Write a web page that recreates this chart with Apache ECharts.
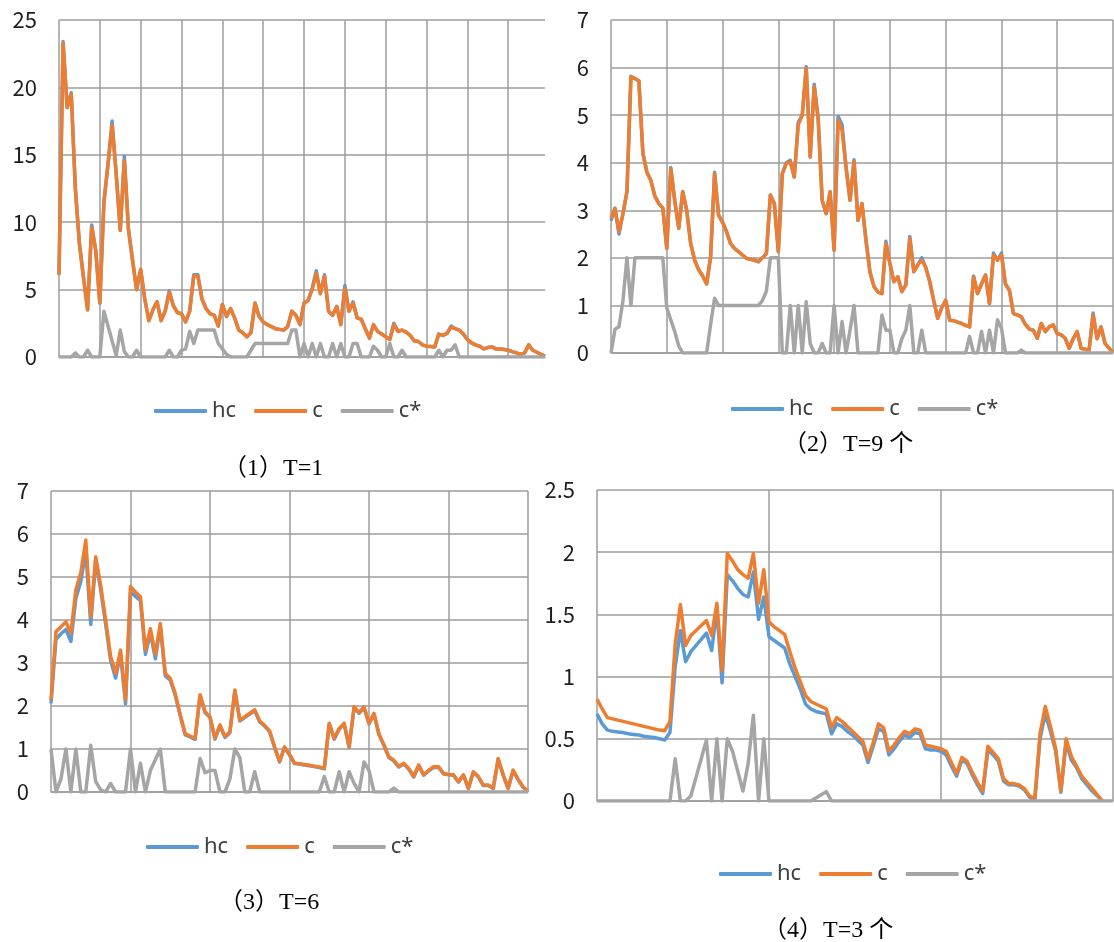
<!DOCTYPE html>
<html>
<head>
<meta charset="utf-8">
<title>hc / c / c*</title>
<script src="https://cdn.jsdelivr.net/npm/echarts@6/dist/echarts.min.js"></script>
<style>
  html, body { margin: 0; padding: 0; background: #fff; }
  #chart { width: 1114px; height: 942px; }
</style>
</head>
<body>
<div id="chart"></div>
<script>
// (1) T=1
const hc1 = [
  6.1, 23.4, 18.5, 19.6, 12.5, 8.4, 5.9, 3.5, 9.8, 7.9,
  4.0, 11.5, 14.3, 17.5, 13.6, 9.4, 14.9, 9.5, 7.2, 5.0,
  6.5, 4.3, 2.7, 3.5, 4.1, 2.7, 3.4, 4.9, 3.8, 3.3,
  3.2, 2.6, 3.4, 6.1, 6.1, 4.3, 3.6, 3.2, 3.1, 2.3,
  3.9, 3.0, 3.6, 2.9, 2.0, 1.8, 1.5, 1.8, 4.0, 3.0,
  2.6, 2.4, 2.25, 2.1, 2.05, 2.0, 2.25, 3.4, 3.1, 2.4,
  4.0, 4.2, 5.1, 6.4, 4.7, 6.1, 3.4, 3.1, 3.75, 2.4,
  5.3, 3.4, 4.1, 2.9, 2.8, 2.1, 1.4, 2.4, 1.9, 1.7,
  1.5, 1.3, 2.5, 1.9, 2.0, 1.85, 1.6, 1.2, 1.15, 0.9,
  0.8, 0.78, 0.75, 1.7, 1.6, 1.75, 2.3, 2.1, 2.0, 1.7,
  1.3, 1.05, 0.9, 0.8, 0.6, 0.7, 0.75, 0.6, 0.6, 0.55,
  0.5, 0.4, 0.3, 0.2, 0.3, 0.9, 0.5, 0.35, 0.2, 0.05
]
const c1 = [
  6.1, 23.3, 18.5, 19.5, 12.5, 8.4, 5.9, 3.5, 9.6, 7.9,
  4.0, 11.5, 14.3, 17.2, 13.6, 9.4, 14.6, 9.5, 7.2, 5.0,
  6.5, 4.3, 2.7, 3.5, 4.1, 2.7, 3.4, 4.8, 3.8, 3.3,
  3.2, 2.6, 3.4, 6.0, 6.0, 4.3, 3.6, 3.2, 3.1, 2.3,
  3.9, 3.0, 3.6, 2.9, 2.0, 1.8, 1.5, 1.8, 4.0, 3.0,
  2.6, 2.4, 2.25, 2.1, 2.05, 2.0, 2.25, 3.4, 3.1, 2.4,
  4.0, 4.2, 5.0, 6.2, 4.7, 6.0, 3.4, 3.1, 3.75, 2.4,
  5.1, 3.4, 4.0, 2.9, 2.8, 2.1, 1.4, 2.4, 1.9, 1.7,
  1.5, 1.3, 2.4, 1.9, 2.0, 1.85, 1.6, 1.2, 1.15, 0.9,
  0.8, 0.78, 0.75, 1.7, 1.6, 1.75, 2.2, 2.1, 2.0, 1.7,
  1.3, 1.05, 0.9, 0.8, 0.6, 0.7, 0.75, 0.6, 0.6, 0.55,
  0.5, 0.4, 0.3, 0.2, 0.3, 0.9, 0.5, 0.35, 0.2, 0.05
]
const cs1 = [
  0, 0, 0, 0, 0.3, 0, 0, 0.5, 0, 0,
  0, 3.4, 2.3, 1.2, 0.1, 2.0, 0.4, 0, 0, 0.5,
  0, 0, 0, 0, 0, 0, 0, 0.5, 0, 0,
  0.5, 0.6, 1.9, 1.0, 2.0, 2.0, 2.0, 2.0, 2.0, 1.0,
  0.6, 0.2, 0, 0, 0, 0, 0, 0.5, 1.0, 1.0,
  1.0, 1.0, 1.0, 1.0, 1.0, 1.0, 1.0, 2.0, 2.0, 0,
  1.0, 0, 1.0, 0, 1.0, 0, 0, 1.0, 0, 1.0,
  0, 0, 1.0, 1.0, 0, 0, 0, 0.8, 0.5, 0,
  0, 1.0, 0, 0, 0.5, 0, 0, 0, 0, 0,
  0, 0, 0, 0.5, 0, 0.5, 0.5, 0.9, 0, 0,
  0, 0, 0, 0, 0, 0, 0, 0, 0, 0,
  0, 0, 0, 0, 0, 0, 0, 0, 0, 0
]

// (2) T=9
const hc2 = [
  2.78, 3.04, 2.5, 2.93, 3.39, 5.82, 5.77, 5.72, 4.2, 3.8,
  3.63, 3.3, 3.14, 3.05, 2.2, 3.9, 3.2, 2.62, 3.39, 3.0,
  2.3, 1.95, 1.75, 1.62, 1.45, 2.02, 3.8, 2.9, 2.75, 2.55,
  2.3, 2.2, 2.13, 2.06, 1.99, 1.97, 1.95, 1.92, 2.0, 2.09,
  3.32, 3.14, 2.13, 3.77, 4.0, 4.05, 3.7, 4.85, 5.0, 6.02,
  4.12, 5.65, 4.95, 3.21, 2.93, 3.39, 2.16, 4.97, 4.8, 3.9,
  3.21, 4.06, 2.79, 3.14, 2.37, 1.7, 1.4, 1.28, 1.25, 2.35,
  1.88, 1.5, 1.6, 1.29, 1.43, 2.45, 1.71, 1.85, 2.0, 1.8,
  1.5, 1.1, 0.73, 0.95, 1.11, 0.69, 0.68, 0.65, 0.62, 0.58,
  0.55, 1.62, 1.25, 1.45, 1.64, 1.04, 2.1, 1.95, 2.1, 1.45,
  1.32, 0.83, 0.8, 0.76, 0.6, 0.5, 0.48, 0.31, 0.62, 0.45,
  0.55, 0.59, 0.41, 0.38, 0.31, 0.1, 0.3, 0.45, 0.1, 0.08,
  0.06, 0.84, 0.3, 0.55, 0.2, 0.1, 0.02
]
const c2 = [
  2.83, 3.04, 2.55, 2.93, 3.39, 5.8, 5.77, 5.72, 4.2, 3.8,
  3.63, 3.3, 3.14, 3.05, 2.2, 3.88, 3.2, 2.62, 3.39, 3.0,
  2.3, 1.95, 1.75, 1.62, 1.45, 2.02, 3.77, 2.9, 2.75, 2.55,
  2.3, 2.2, 2.13, 2.06, 1.99, 1.97, 1.95, 1.92, 2.0, 2.09,
  3.32, 3.14, 2.13, 3.77, 3.98, 4.02, 3.7, 4.8, 5.0, 5.98,
  4.12, 5.6, 4.9, 3.21, 2.93, 3.39, 2.16, 4.9, 4.68, 3.9,
  3.21, 4.02, 2.79, 3.14, 2.37, 1.7, 1.4, 1.28, 1.25, 2.3,
  1.88, 1.5, 1.6, 1.29, 1.43, 2.41, 1.71, 1.85, 1.95, 1.8,
  1.5, 1.1, 0.73, 0.95, 1.11, 0.69, 0.68, 0.65, 0.62, 0.58,
  0.55, 1.6, 1.25, 1.45, 1.64, 1.04, 2.06, 1.95, 2.06, 1.45,
  1.32, 0.83, 0.8, 0.76, 0.6, 0.5, 0.48, 0.31, 0.62, 0.45,
  0.55, 0.59, 0.41, 0.38, 0.31, 0.1, 0.3, 0.45, 0.1, 0.08,
  0.06, 0.8, 0.3, 0.55, 0.2, 0.1, 0.02
]
const cs2 = [
  0, 0.5, 0.55, 1.1, 2.0, 1.0, 2.0, 2.0, 2.0, 2.0,
  2.0, 2.0, 2.0, 2.0, 0.95, 0.7, 0.45, 0.15, 0, 0,
  0, 0, 0, 0, 0, 0.6, 1.15, 1.0, 1.0, 1.0,
  1.0, 1.0, 1.0, 1.0, 1.0, 1.0, 1.0, 1.0, 1.1, 1.3,
  2.0, 2.0, 2.0, 0, 0, 1.0, 0, 1.0, 0, 1.08,
  0.2, 0, 0, 0.2, 0, 0, 1.0, 0, 0.66, 0,
  0.48, 1.0, 0, 0, 0, 0, 0, 0, 0.8, 0.48,
  0.48, 0, 0, 0.3, 0.48, 1.0, 0, 0, 0.48, 0,
  0, 0, 0, 0, 0, 0, 0, 0, 0, 0,
  0.35, 0, 0, 0.45, 0, 0.48, 0, 0.7, 0.52, 0,
  0, 0, 0, 0.06, 0, 0, 0, 0, 0, 0,
  0, 0, 0, 0, 0, 0, 0, 0, 0, 0,
  0, 0, 0, 0, 0, 0, 0
]

// (3) T=6
const hc3 = [
  2.06, 3.55, 3.68, 3.78, 3.5, 4.5, 4.9, 5.6, 3.9, 5.4,
  4.7, 3.9, 3.05, 2.65, 3.2, 2.05, 4.65, 4.55, 4.45, 3.2,
  3.7, 3.1, 3.85, 2.7, 2.6, 2.25, 1.78, 1.33, 1.28, 1.22,
  2.24, 1.85, 1.73, 1.23, 1.54, 1.27, 1.38, 2.35, 1.65, 1.73,
  1.81, 1.89, 1.63, 1.53, 1.4, 1.03, 0.7, 1.03, 0.86, 0.66,
  0.65, 0.63, 0.61, 0.59, 0.57, 0.54, 1.58, 1.23, 1.46, 1.58,
  1.04, 1.96, 1.83, 1.96, 1.58, 1.81, 1.33, 1.08, 0.8, 0.72,
  0.58, 0.65, 0.53, 0.35, 0.61, 0.39, 0.49, 0.57, 0.57, 0.42,
  0.4, 0.39, 0.23, 0.39, 0.08, 0.46, 0.35, 0.15, 0.15, 0.08,
  0.76, 0.39, 0.08, 0.49, 0.29, 0.11, 0.01
]
const c3 = [
  2.14, 3.73, 3.84, 3.96, 3.69, 4.7, 5.1, 5.86, 4.08, 5.47,
  4.8, 4.0, 3.15, 2.76, 3.3, 2.14, 4.78, 4.65, 4.54, 3.3,
  3.8, 3.2, 3.92, 2.76, 2.64, 2.29, 1.8, 1.36, 1.3, 1.25,
  2.26, 1.87, 1.75, 1.25, 1.56, 1.29, 1.4, 2.37, 1.67, 1.75,
  1.83, 1.91, 1.65, 1.55, 1.42, 1.05, 0.71, 1.05, 0.88, 0.67,
  0.66, 0.64, 0.62, 0.6, 0.58, 0.55, 1.6, 1.25, 1.48, 1.6,
  1.05, 1.98, 1.85, 1.98, 1.6, 1.83, 1.35, 1.1, 0.82, 0.74,
  0.59, 0.67, 0.55, 0.36, 0.63, 0.4, 0.5, 0.59, 0.59, 0.43,
  0.41, 0.4, 0.24, 0.4, 0.09, 0.47, 0.36, 0.16, 0.16, 0.09,
  0.78, 0.4, 0.09, 0.51, 0.3, 0.12, 0.01
]
const cs3 = [
  1.0, 0, 0.3, 1.0, 0, 1.0, 0, 0, 1.09, 0.24,
  0.05, 0, 0.2, 0, 0, 0, 1.0, 0, 0.67, 0,
  0.5, 0.75, 1.0, 0, 0, 0, 0, 0, 0, 0,
  0.78, 0.45, 0.5, 0.5, 0, 0, 0.3, 1.0, 0.8, 0,
  0, 0.47, 0, 0, 0, 0, 0, 0, 0, 0,
  0, 0, 0, 0, 0, 0.36, 0, 0, 0.47, 0,
  0.47, 0.2, 0, 0.7, 0.5, 0, 0, 0, 0, 0.09,
  0, 0, 0, 0, 0, 0, 0, 0, 0, 0,
  0, 0, 0, 0, 0, 0, 0, 0, 0, 0,
  0, 0, 0, 0, 0, 0, 0
]

// (4) T=3
const hc4 = [
  0.7, 0.62, 0.57, 0.56, 0.555, 0.55, 0.54, 0.535, 0.53, 0.52,
  0.515, 0.51, 0.5, 0.49, 0.55, 1.08, 1.37, 1.12, 1.2, 1.25,
  1.3, 1.35, 1.21, 1.54, 0.95, 1.82, 1.77, 1.71, 1.66, 1.64,
  1.84, 1.46, 1.64, 1.32, 1.29, 1.26, 1.23, 1.1, 1.0, 0.9,
  0.78, 0.74, 0.72, 0.71, 0.7, 0.54, 0.62, 0.6, 0.56, 0.53,
  0.49, 0.45, 0.31, 0.44, 0.58, 0.56, 0.37, 0.42, 0.48, 0.53,
  0.51, 0.55, 0.54, 0.42, 0.41, 0.41, 0.4, 0.37, 0.28, 0.2,
  0.33, 0.3, 0.21, 0.13, 0.06, 0.41, 0.37, 0.32, 0.16, 0.13,
  0.13, 0.12, 0.09, 0.03, 0.01, 0.5, 0.7, 0.56, 0.4, 0.07,
  0.47, 0.33, 0.27, 0.18, 0.13, 0.08, 0.04, 0, null, null
]
const c4 = [
  0.82, 0.74, 0.67, 0.66, 0.65, 0.64, 0.63, 0.62, 0.61, 0.6,
  0.59, 0.58, 0.57, 0.565, 0.64, 1.26, 1.58, 1.25, 1.33, 1.37,
  1.41, 1.45, 1.33, 1.59, 1.05, 1.99, 1.93, 1.86, 1.82, 1.79,
  1.99, 1.59, 1.86, 1.44, 1.4, 1.37, 1.34, 1.2, 1.07, 0.96,
  0.85, 0.8, 0.78, 0.76, 0.74, 0.59, 0.67, 0.64, 0.6, 0.56,
  0.52, 0.48, 0.34, 0.47, 0.62, 0.59, 0.4, 0.45, 0.51, 0.56,
  0.54, 0.58, 0.57, 0.45, 0.44, 0.43, 0.42, 0.4, 0.31, 0.22,
  0.35, 0.32, 0.23, 0.15, 0.08, 0.44, 0.39, 0.34, 0.18, 0.14,
  0.14, 0.13, 0.1, 0.04, 0.02, 0.54, 0.76, 0.6, 0.42, 0.08,
  0.5, 0.36, 0.28, 0.2, 0.15, 0.1, 0.05, 0, null, null
]
const cs4 = [
  0, 0, 0, 0, 0, 0, 0, 0, 0, 0,
  0, 0, 0, 0, 0, 0.34, 0, 0, 0.04, 0.19,
  0.34, 0.49, 0, 0.5, 0, 0.5, 0.4, 0.24, 0.08, 0.3,
  0.69, 0, 0.5, 0, 0, 0, 0, 0, 0, 0,
  0, 0, 0.025, 0.05, 0.075, 0, 0, 0, 0, 0,
  0, 0, 0, 0, 0, 0, 0, 0, 0, 0,
  0, 0, 0, 0, 0, 0, 0, 0, 0, 0,
  0, 0, 0, 0, 0, 0, 0, 0, 0, 0,
  0, 0, 0, 0, 0, 0, 0, 0, 0, 0,
  0, 0, 0, 0, 0, 0, 0, 0, 0, 0
]

const seriesNames = ['hc', 'c', 'c*']
const colors = ['#5B9BD5', '#ED7D31', '#A5A5A5']
const titles = ['（1）T=1', '（2）T=9 个', '（3）T=6', '（4）T=3 个']
const yMax = [25, 7, 7, 2.5]
const yStep = [5, 1, 1, 0.5]
const xStep = [10, 14, 16, 33]   // points between vertical grid lines
const panels = [[hc1, c1, cs1], [hc2, c2, cs2], [hc3, c3, cs3], [hc4, c4, cs4]]

// pixel layout of the four small charts
const layout = [
  { grid: { left: 59, top: 20, width: 486, height: 337 }, legend: { left: 149, top: 395 }, title: { left: 218, top: 452 } },
  { grid: { left: 611, top: 20, width: 502, height: 333 }, legend: { left: 726, top: 393 }, title: { left: 778, top: 428 } },
  { grid: { left: 51, top: 491, width: 477, height: 301 }, legend: { left: 141, top: 831 }, title: { left: 214, top: 886 } },
  { grid: { left: 597, top: 490, width: 516, height: 311 }, legend: { left: 714, top: 858 }, title: { left: 758, top: 914 } }
]

const gridColor = '#9c9c9c'
const textColor = '#1f1f1f'

const option = { animation: false, grid: [], xAxis: [], yAxis: [], series: [], legend: [], title: [] }

panels.forEach((p, i) => {
  const cats = p[1].map((v, j) => j + 1)
  option.grid.push(layout[i].grid)
  option.xAxis.push({
    type: 'category',
    gridIndex: i,
    data: cats,
    boundaryGap: false,
    axisLine: { show: true, lineStyle: { color: gridColor, width: 1.5 } },
    axisTick: { show: false },
    axisLabel: { show: false },
    splitLine: { show: true, interval: xStep[i] - 1, lineStyle: { color: gridColor, width: 1.5 } }
  })
  option.yAxis.push({
    type: 'value',
    gridIndex: i,
    min: 0,
    max: yMax[i],
    interval: yStep[i],
    axisLine: { show: false },
    axisTick: { show: false },
    axisLabel: { margin: 22, fontSize: 22, color: textColor, fontFamily: "'Noto Sans CJK SC', 'Noto Sans', sans-serif" },
    splitLine: { show: true, lineStyle: { color: gridColor, width: 1.5 } }
  })
  p.forEach((data, k) => {
    option.series.push({
      name: seriesNames[k],
      type: 'line',
      xAxisIndex: i,
      yAxisIndex: i,
      data: data,
      symbol: 'none',
      color: colors[k],
      lineStyle: { width: 3.5, color: colors[k], join: 'round' }
    })
  })
  option.legend.push({
    data: seriesNames,
    left: layout[i].legend.left,
    top: layout[i].legend.top,
    icon: 'roundRect',
    itemWidth: 53,
    itemHeight: 4,
    itemGap: 18,
    selectedMode: false,
    textStyle: { fontSize: 22, color: '#404040', fontFamily: "'Noto Sans', sans-serif" }
  })
  option.title.push({
    text: titles[i],
    left: layout[i].title.left,
    top: layout[i].title.top,
    textStyle: { fontSize: 24, fontWeight: 'normal', color: '#000', fontFamily: "'Liberation Serif', 'Noto Sans CJK SC', serif" }
  })
})

const myChart = echarts.init(document.getElementById('chart'))
myChart.setOption(option)
window.addEventListener('resize', function () {
  myChart.resize()
})
</script>
</body>
</html>
